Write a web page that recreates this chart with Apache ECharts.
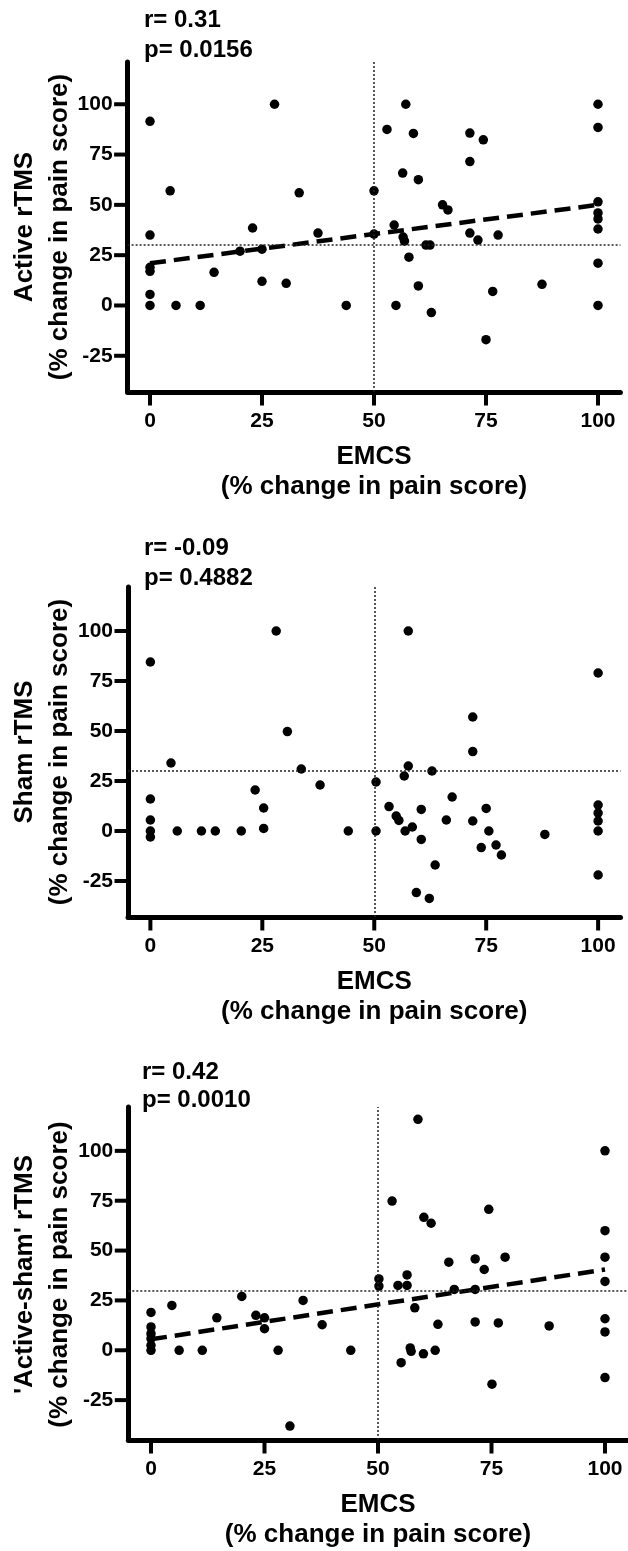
<!DOCTYPE html>
<html>
<head>
<meta charset="utf-8">
<script src="https://cdn.jsdelivr.net/npm/echarts@6/dist/echarts.min.js"></script>
<style>
html,body{margin:0;padding:0;background:#fff;}
#chart{width:628px;height:1551px;}
</style>
</head>
<body>
<div id="chart"></div>
<script>
// ---------- data ----------
const xTicks = [0, 25, 50, 75, 100];
const yTicks = [-25, 0, 25, 50, 75, 100];
const xTitle = 'EMCS\n(% change in pain score)';
const yTitles = ['Active rTMS', 'Sham rTMS', "'Active-sham' rTMS"];
const yUnit = '(% change in pain score)';
const statR = ['r= 0.31', 'r= -0.09', 'r= 0.42'];
const statP = ['p= 0.0156', 'p= 0.4882', 'p= 0.0010'];
const refX = 50;
const refY = 30;

const activePts = [
  [0,91.5],[0,35],[0,19],[0,17],[0,5.5],[0,0],
  [4.5,57],[5.8,0],[11.2,0],[14.3,16.5],[20.1,27],[22.9,38.5],[25,28],[25,12],[27.8,100],[30.4,11],[33.3,56],[37.5,36],[43.8,0],
  [50,57],[50,35.5],[52.9,87.5],[54.5,40],[54.9,0],[56.4,65.8],[56.5,34],[56.8,32],[57.1,100],[57.8,24],[58.8,85.5],[59.9,62.5],[59.9,9.7],
  [61.6,30],[62.5,30],[62.8,-3.5],[65.3,50],[66.5,47.5],[71.4,85.7],[71.4,71.5],[71.4,36],[73.2,32.5],[74.4,82.3],[75,-17],[76.5,7],[77.7,35],[87.5,10.5],
  [100,100],[100,88.5],[100,51.5],[100,46],[100,43],[100,38],[100,21],[100,0]
];
const shamPts = [
  [0,84.5],[0,16],[0,5.5],[0,0],[0,-3],[4.6,34],[6,0],[11.4,0],[14.5,0],[20.3,0],[23.4,20.5],[25.3,11.5],[25.3,1.3],[28.1,100],[30.6,49.7],[33.7,31],[37.9,23],[44.2,0],
  [50.4,24.5],[50.4,0],[53.3,12.2],[54.9,7.5],[55.5,5.3],[56.7,27.5],[57.6,32.5],[56.9,0],[57.6,100],[58.5,2],[59.4,-30.8],[60.5,-4.2],[60.5,10.8],[62.3,-33.7],[62.9,30],[63.6,-17],
  [66.1,5.5],[67.4,17],[72,57],[72,39.7],[72,5],[73.9,-8.3],[75,11.3],[75.6,0],[77.2,-7],[78.4,-12],[88.1,-1.7],
  [100,79],[100,13],[100,9],[100,5],[100,0],[100,-22]
];
const diffPts = [
  [0,19],[0,11.7],[0,8.3],[0,5.8],[0,2.5],[0,0],[4.6,22.5],[6.2,0],[11.3,0],[14.5,16.3],[20,27],[23.1,17.5],[25,16.3],[25,10.8],[28,0],[30.6,-38],[33.5,25],[37.7,12.8],[44,0],
  [50.2,35.8],[50.2,32.2],[53.1,74.8],[54.4,32.5],[55.1,-6.2],[56.4,37.8],[56.4,32.5],[57.1,1.2],[57.3,-0.5],[58.1,21.3],[58.8,115.8],[60,-1.8],[60.1,66.7],[61.7,63.7],[62.6,0],[63.2,13],
  [65.6,44.2],[66.8,30.5],[71.4,45.8],[71.4,30.5],[71.4,14.2],[73.4,40.5],[74.4,70.7],[75.1,-17],[76.5,13.7],[78,46.7],[87.7,12.2],
  [100,100],[100,60],[100,46.7],[100,34.5],[100,15.8],[100,9.2],[100,-13.7]
];
const activeFit = [[0,21],[100,50]];
const diffFit = [[0,5.5],[100,40.5]];

const panels = [activePts, shamPts, diffPts];
const fits = [activeFit, null, diffFit];
const xRange = [-5, 105];
const yRanges = [[-43,121],[-43,122],[-45,122]];

// ---------- layout ----------
const FONT = '"Liberation Sans", Arial, Helvetica, sans-serif';
const grids = [
  {left:127.6, top:62, width:492.8, height:330},
  {left:128, top:587, width:492.5, height:330},
  {left:128.3, top:1107, width:499.4, height:335}
];
const statPos = [[144,20,50],[144,548,578],[142,1072,1100]];
const TICK_LEN = 13.5;
const TICK_W = 4;

const option = {
  animation:false,
  backgroundColor:'#fff',
  grid: grids.map(g => Object.assign({containLabel:false}, g)),
  xAxis: grids.map((g,i) => ({
    type:'value', gridIndex:i, min:xRange[0], max:xRange[1],
    axisLine:{show:true, onZero:false, lineStyle:{color:'#000', width:5}},
    axisTick:{show:false},
    axisLabel:{customValues:xTicks, margin:19, color:'#000', fontSize:21, fontWeight:'bold', fontFamily:FONT},
    splitLine:{show:false},
    name:xTitle, nameLocation:'middle', nameGap:50,
    nameTextStyle:{color:'#000', fontSize:26, fontWeight:'bold', fontFamily:FONT, lineHeight:30}
  })),
  yAxis: grids.map((g,i) => ({
    type:'value', gridIndex:i, min:yRanges[i][0], max:yRanges[i][1],
    axisLine:{show:true, onZero:false, lineStyle:{color:'#000', width:5}},
    axisTick:{show:false},
    axisLabel:{customValues:yTicks, margin:15, color:'#000', fontSize:21, fontWeight:'bold', fontFamily:FONT},
    splitLine:{show:false}
  })),
  series: [],
  graphic: []
};

// tick marks, placed through each panel's own axis scales
function xTickItem(params, api) {
  const p = api.coord([api.value(0), api.value(1)]);
  return {type:'line', shape:{x1:p[0], y1:p[1], x2:p[0], y2:p[1] + TICK_LEN},
          style:{stroke:'#000', lineWidth:TICK_W}};
}
function yTickItem(params, api) {
  const p = api.coord([api.value(0), api.value(1)]);
  return {type:'line', shape:{x1:p[0], y1:p[1], x2:p[0] - TICK_LEN, y2:p[1]},
          style:{stroke:'#000', lineWidth:TICK_W}};
}

panels.forEach((pts, i) => {
  option.series.push({
    type:'scatter', xAxisIndex:i, yAxisIndex:i, data:pts,
    symbol:'circle', symbolSize:9.5, itemStyle:{color:'#000', opacity:1}, z:3,
    markLine:{
      silent:true, symbol:'none', label:{show:false}, animation:false,
      lineStyle:{type:[2,2], width:1.5, color:'#222', opacity:1},
      data:[{yAxis:refY},{xAxis:refX}]
    }
  });
  if (fits[i]) {
    option.series.push({
      type:'line', xAxisIndex:i, yAxisIndex:i, data:fits[i],
      showSymbol:false, symbol:'none', z:4,
      lineStyle:{type:[16,8], width:4.5, color:'#000', cap:'butt'}
    });
  }
  option.series.push({
    type:'custom', xAxisIndex:i, yAxisIndex:i, clip:false,
    data:xTicks.map(v => [v, yRanges[i][0]]), renderItem:xTickItem
  });
  option.series.push({
    type:'custom', xAxisIndex:i, yAxisIndex:i, clip:false,
    data:yTicks.map(v => [xRange[0], v]), renderItem:yTickItem
  });

  const g = grids[i];
  const cy = g.top + g.height/2;
  const tStyle = (txt, size) => ({
    text:txt, fill:'#000', font:'bold ' + size + 'px ' + FONT,
    align:'center', verticalAlign:'middle', textAlign:'center', textVerticalAlign:'middle'
  });
  option.graphic.push({type:'text', x:25, y:cy, rotation:Math.PI/2, style:tStyle(yTitles[i], 26)});
  option.graphic.push({type:'text', x:60, y:cy, rotation:Math.PI/2, style:tStyle(yUnit, 26)});
  const sp = statPos[i];
  const sStyle = (txt) => ({
    text:txt, fill:'#000', font:'bold 24px ' + FONT,
    align:'left', verticalAlign:'middle', textAlign:'left', textVerticalAlign:'middle'
  });
  option.graphic.push({type:'text', x:sp[0], y:sp[1], style:sStyle(statR[i])});
  option.graphic.push({type:'text', x:sp[0], y:sp[2], style:sStyle(statP[i])});
});

const chart = echarts.init(document.getElementById('chart'), null, {renderer:'canvas'});
chart.setOption(option);
</script>
</body>
</html>
